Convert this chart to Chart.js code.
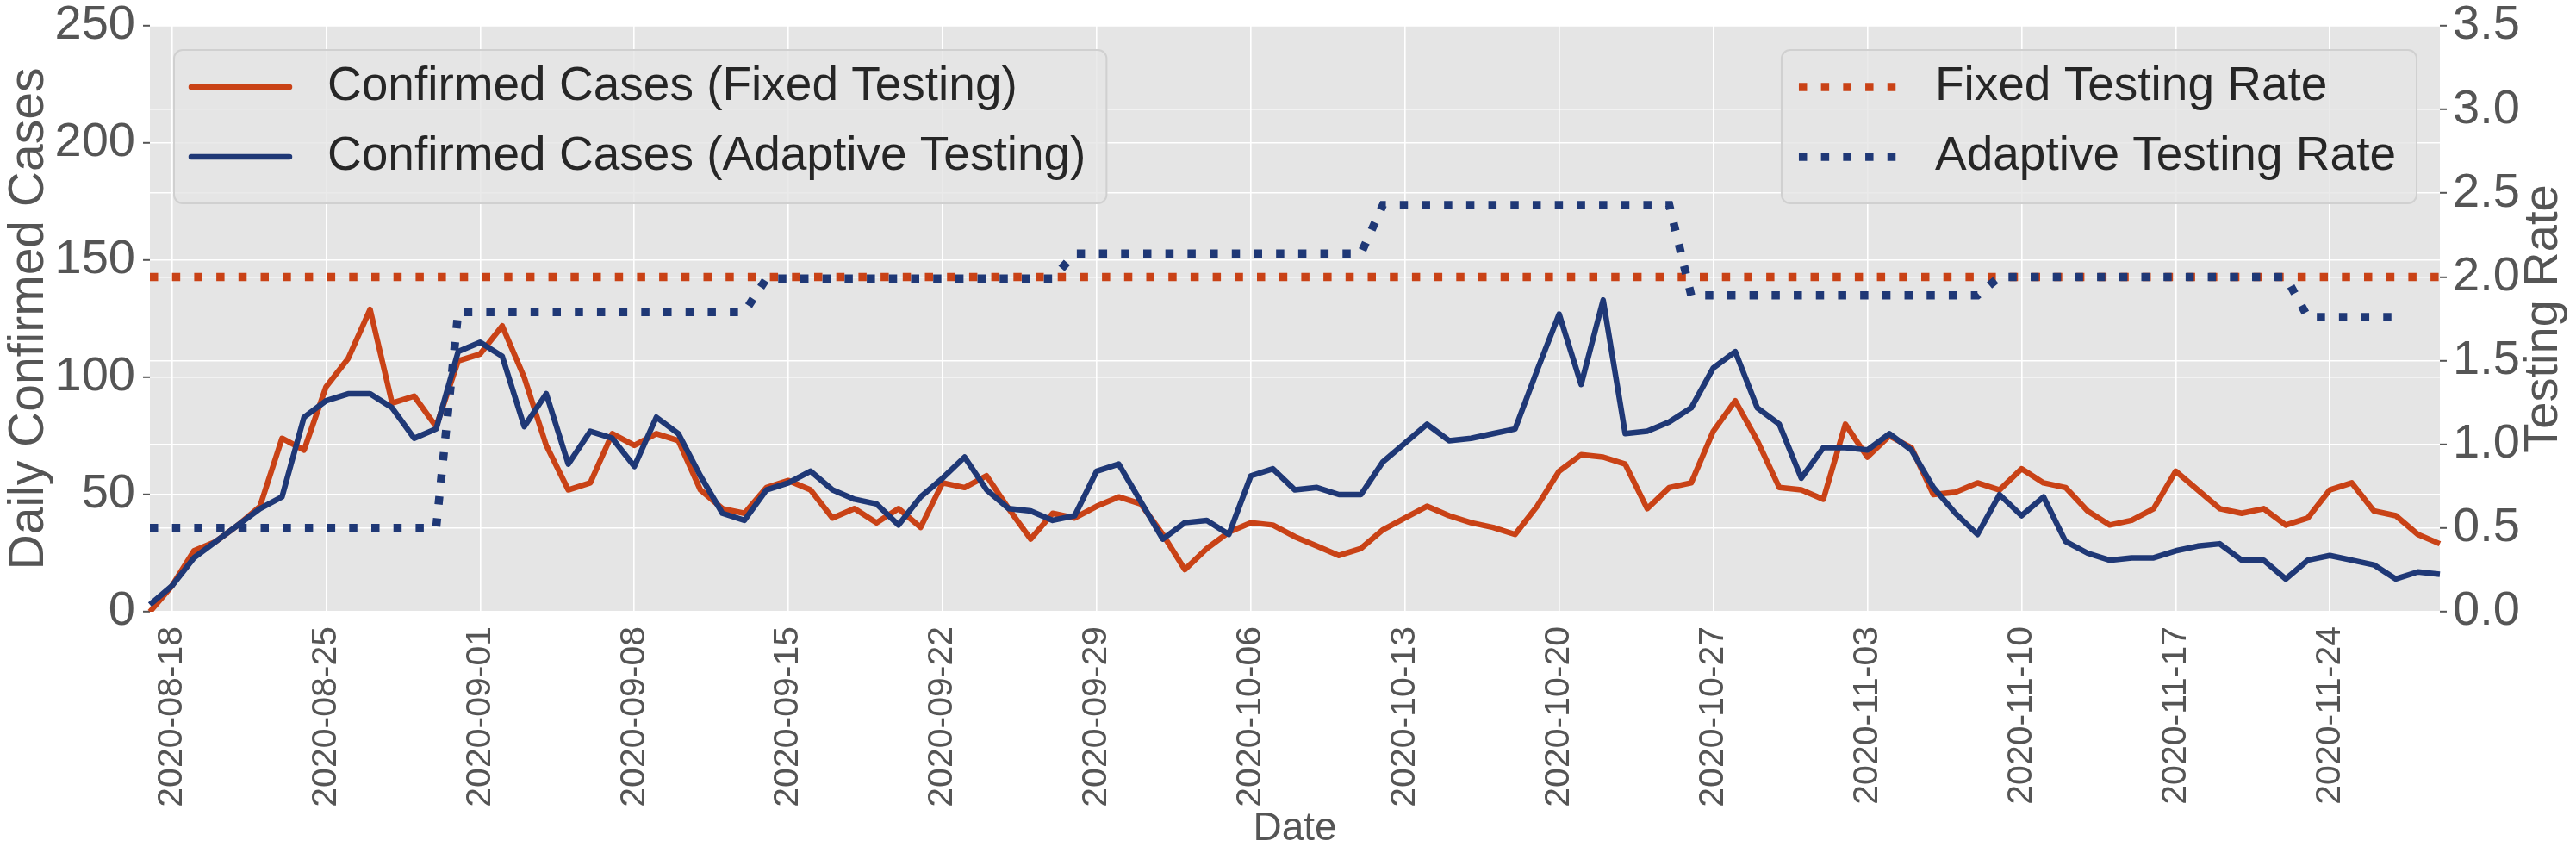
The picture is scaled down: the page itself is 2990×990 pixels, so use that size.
<!DOCTYPE html>
<html lang="en">
<head>
    <meta charset="UTF-8">
    <title>Confirmed Cases and Testing Rate</title>
    <script src="https://cdn.jsdelivr.net/npm/chart.js"></script>
    <style>
        body {
            margin: 0;
            background: #ffffff;
            overflow: hidden;
        }

        canvas {
            display: block;
        }
    </style>
</head>
<body>
    <canvas id="casesChart" width="2990" height="990"></canvas>

    <script>
        // Days shown on the x axis
        const dates = [
            '2020-08-17', '2020-08-18', '2020-08-19', '2020-08-20', '2020-08-21', '2020-08-22', '2020-08-23', '2020-08-24', '2020-08-25', '2020-08-26', '2020-08-27', '2020-08-28', '2020-08-29', '2020-08-30', '2020-08-31',
            '2020-09-01', '2020-09-02', '2020-09-03', '2020-09-04', '2020-09-05', '2020-09-06', '2020-09-07', '2020-09-08', '2020-09-09', '2020-09-10', '2020-09-11', '2020-09-12', '2020-09-13', '2020-09-14', '2020-09-15',
            '2020-09-16', '2020-09-17', '2020-09-18', '2020-09-19', '2020-09-20', '2020-09-21', '2020-09-22', '2020-09-23', '2020-09-24', '2020-09-25', '2020-09-26', '2020-09-27', '2020-09-28', '2020-09-29', '2020-09-30',
            '2020-10-01', '2020-10-02', '2020-10-03', '2020-10-04', '2020-10-05', '2020-10-06', '2020-10-07', '2020-10-08', '2020-10-09', '2020-10-10', '2020-10-11', '2020-10-12', '2020-10-13', '2020-10-14', '2020-10-15',
            '2020-10-16', '2020-10-17', '2020-10-18', '2020-10-19', '2020-10-20', '2020-10-21', '2020-10-22', '2020-10-23', '2020-10-24', '2020-10-25', '2020-10-26', '2020-10-27', '2020-10-28', '2020-10-29', '2020-10-30', '2020-10-31',
            '2020-11-01', '2020-11-02', '2020-11-03', '2020-11-04', '2020-11-05', '2020-11-06', '2020-11-07', '2020-11-08', '2020-11-09', '2020-11-10', '2020-11-11', '2020-11-12', '2020-11-13', '2020-11-14', '2020-11-15',
            '2020-11-16', '2020-11-17', '2020-11-18', '2020-11-19', '2020-11-20', '2020-11-21', '2020-11-22', '2020-11-23', '2020-11-24', '2020-11-25', '2020-11-26', '2020-11-27', '2020-11-28', '2020-11-29'
        ];

        // Dates that get a tick label and a grid line
        const tickDates = [
            '2020-08-18', '2020-08-25', '2020-09-01', '2020-09-08', '2020-09-15', '2020-09-22', '2020-09-29', '2020-10-06',
            '2020-10-13', '2020-10-20', '2020-10-27', '2020-11-03', '2020-11-10', '2020-11-17', '2020-11-24'
        ];

        const casesFixed = [
            0, 11, 26, 30, 37, 45, 74,
            69, 96, 108, 129, 89, 92, 79,
            107, 110, 122, 100, 71, 52, 55,
            76, 71, 76, 73, 52, 44, 42,
            53, 56, 52, 40, 44, 38, 44,
            36, 55, 53, 58, 44, 31, 42,
            40, 45, 49, 46, 33, 18, 27,
            34, 38, 37, 32, 28, 24, 27,
            35, 40, 45, 41, 38, 36, 33,
            45, 60, 67, 66, 63, 44, 53,
            55, 77, 90, 73, 53, 52, 48,
            80, 66, 75, 70, 50, 51, 55,
            52, 61, 55, 53, 43, 37, 39,
            44, 60, 52, 44, 42, 44, 37,
            40, 52, 55, 43, 41, 33, 29
        ];

        const casesAdaptive = [
            3, 11, 23, 30, 37, 44, 49,
            83, 90, 93, 93, 87, 74, 78,
            111, 115, 109, 79, 93, 63, 77,
            74, 62, 83, 76, 58, 42, 39,
            52, 55, 60, 52, 48, 46, 37,
            49, 57, 66, 52, 44, 43, 39,
            41, 60, 63, 47, 31, 38, 39,
            33, 58, 61, 52, 53, 50, 50,
            64, 72, 80, 73, 74, 76, 78,
            103, 127, 97, 133, 76, 77, 81,
            87, 104, 111, 87, 80, 57, 70,
            70, 69, 76, 69, 53, 42, 33,
            50, 41, 49, 30, 25, 22, 23,
            23, 26, 28, 29, 22, 22, 14,
            22, 24, 22, 20, 14, 17, 16
        ];

        const rateFixed = [
            2, 2, 2, 2, 2, 2, 2,
            2, 2, 2, 2, 2, 2, 2,
            2, 2, 2, 2, 2, 2, 2,
            2, 2, 2, 2, 2, 2, 2,
            2, 2, 2, 2, 2, 2, 2,
            2, 2, 2, 2, 2, 2, 2,
            2, 2, 2, 2, 2, 2, 2,
            2, 2, 2, 2, 2, 2, 2,
            2, 2, 2, 2, 2, 2, 2,
            2, 2, 2, 2, 2, 2, 2,
            2, 2, 2, 2, 2, 2, 2,
            2, 2, 2, 2, 2, 2, 2,
            2, 2, 2, 2, 2, 2, 2,
            2, 2, 2, 2, 2, 2, 2,
            2, 2, 2, 2, 2, 2, 2
        ];

        // Adaptive rate changes every two weeks and stops two days before the end
        const rateAdaptive = [
            0.5, 0.5, 0.5, 0.5, 0.5, 0.5, 0.5, 0.5, 0.5, 0.5, 0.5, 0.5, 0.5, 0.5,
            1.79, 1.79, 1.79, 1.79, 1.79, 1.79, 1.79, 1.79, 1.79, 1.79, 1.79, 1.79, 1.79, 1.79,
            1.99, 1.99, 1.99, 1.99, 1.99, 1.99, 1.99, 1.99, 1.99, 1.99, 1.99, 1.99, 1.99, 1.99,
            2.14, 2.14, 2.14, 2.14, 2.14, 2.14, 2.14, 2.14, 2.14, 2.14, 2.14, 2.14, 2.14, 2.14,
            2.43, 2.43, 2.43, 2.43, 2.43, 2.43, 2.43, 2.43, 2.43, 2.43, 2.43, 2.43, 2.43, 2.43,
            1.89, 1.89, 1.89, 1.89, 1.89, 1.89, 1.89, 1.89, 1.89, 1.89, 1.89, 1.89, 1.89, 1.89,
            2.0, 2.0, 2.0, 2.0, 2.0, 2.0, 2.0, 2.0, 2.0, 2.0, 2.0, 2.0, 2.0, 2.0,
            1.76, 1.76, 1.76, 1.76, 1.76, null, null
        ];

        const ORANGE = '#c94216';
        const NAVY = '#1f3876';
        const FONT = '"Liberation Sans", Arial, Helvetica, sans-serif';
        const DOTS = [9.5, 16.2];

        Chart.defaults.font.family = FONT;

        // Plot background, axis titles and the two legends
        const decorations = {
            id: 'decorations',
            beforeDraw(chart) {
                const { ctx, chartArea: a } = chart;
                ctx.save();
                ctx.fillStyle = '#ffffff';
                ctx.fillRect(0, 0, chart.width, chart.height);
                ctx.fillStyle = '#e5e5e5';
                ctx.fillRect(a.left, a.top, a.right - a.left, a.bottom - a.top);
                ctx.restore();
            },
            afterDraw(chart) {
                const { ctx, chartArea: a } = chart;
                const midY = (a.top + a.bottom) / 2;

                ctx.save();
                ctx.fillStyle = '#555555';
                ctx.textAlign = 'center';
                ctx.textBaseline = 'alphabetic';

                ctx.font = '57px ' + FONT;
                ctx.save();
                ctx.translate(50, midY);
                ctx.rotate(-Math.PI / 2);
                ctx.fillText('Daily Confirmed Cases', 0, 0);
                ctx.restore();

                ctx.font = '56px ' + FONT;
                ctx.save();
                ctx.translate(2968, midY);
                ctx.rotate(-Math.PI / 2);
                ctx.fillText('Testing Rate', 0, 0);
                ctx.restore();

                ctx.font = '46px ' + FONT;
                ctx.fillText('Date', (a.left + a.right) / 2, 975);
                ctx.restore();

                const sets = chart.data.datasets;
                drawLegend(ctx, sets.filter(d => d.yAxisID === 'y'), a.left + 28, a.top + 28, false);
                drawLegend(ctx, sets.filter(d => d.yAxisID === 'y1'), a.right - 27, a.top + 28, true);
            }
        };

        function drawLegend(ctx, items, x, y, fromRight) {
            ctx.save();
            ctx.font = '55px ' + FONT;
            const textW = Math.max(...items.map(d => ctx.measureText(d.label).width));
            const w = 20 + 114 + 44 + textW + 24;
            const h = 178;
            const left = fromRight ? x - w : x;

            ctx.beginPath();
            ctx.roundRect(left, y, w, h, 10);
            ctx.fillStyle = 'rgba(229, 229, 229, 0.8)';
            ctx.fill();
            ctx.lineWidth = 2;
            ctx.strokeStyle = '#d0d0d0';
            ctx.stroke();

            items.forEach((d, k) => {
                const cy = y + 43 + k * 81;
                ctx.beginPath();
                ctx.setLineDash(d.borderDash || []);
                ctx.lineCap = d.borderDash ? 'butt' : 'round';
                ctx.lineWidth = d.borderWidth;
                ctx.strokeStyle = d.borderColor;
                ctx.moveTo(left + 20, cy);
                ctx.lineTo(left + 134, cy);
                ctx.stroke();
                ctx.setLineDash([]);

                ctx.fillStyle = '#262626';
                ctx.textAlign = 'left';
                ctx.textBaseline = 'middle';
                ctx.fillText(d.label, left + 178, cy);
            });
            ctx.restore();
        }

        const ctx = document.getElementById('casesChart').getContext('2d');

        new Chart(ctx, {
            type: 'line',
            data: {
                labels: dates,
                datasets: [
                    {
                        label: 'Confirmed Cases (Fixed Testing)',
                        data: casesFixed,
                        yAxisID: 'y',
                        borderColor: ORANGE,
                        borderWidth: 6.5,
                        borderJoinStyle: 'round',
                        order: 3
                    },
                    {
                        label: 'Confirmed Cases (Adaptive Testing)',
                        data: casesAdaptive,
                        yAxisID: 'y',
                        borderColor: NAVY,
                        borderWidth: 6.5,
                        borderJoinStyle: 'round',
                        order: 2
                    },
                    {
                        label: 'Fixed Testing Rate',
                        data: rateFixed,
                        yAxisID: 'y1',
                        borderColor: ORANGE,
                        borderWidth: 9.5,
                        borderDash: DOTS,
                        borderCapStyle: 'butt',
                        order: 1
                    },
                    {
                        label: 'Adaptive Testing Rate',
                        data: rateAdaptive,
                        yAxisID: 'y1',
                        borderColor: NAVY,
                        borderWidth: 9.5,
                        borderDash: DOTS,
                        borderCapStyle: 'butt',
                        order: 0
                    }
                ]
            },
            options: {
                responsive: false,
                animation: false,
                devicePixelRatio: 1,
                events: [],
                layout: {
                    padding: { top: 30, left: 0, right: 0, bottom: 0 }
                },
                elements: {
                    point: { radius: 0 },
                    line: { tension: 0, fill: false }
                },
                plugins: {
                    legend: { display: false },
                    tooltip: { enabled: false }
                },
                scales: {
                    x: {
                        type: 'category',
                        offset: false,
                        afterBuildTicks: (scale) => {
                            scale.ticks = scale.ticks.filter(t => tickDates.includes(dates[t.value]));
                        },
                        afterFit: (scale) => {
                            scale.height = 280;
                            scale.paddingLeft = 0;
                            scale.paddingRight = 0;
                        },
                        ticks: {
                            autoSkip: false,
                            minRotation: 90,
                            maxRotation: 90,
                            padding: 9,
                            color: '#555555',
                            font: { size: 41 }
                        },
                        grid: {
                            color: '#ffffff',
                            lineWidth: 1.6,
                            tickLength: 8,
                            tickColor: 'rgba(0, 0, 0, 0)'
                        },
                        border: { display: false }
                    },
                    y: {
                        position: 'left',
                        min: 0,
                        max: 250,
                        afterFit: (scale) => {
                            scale.width = 174;
                            scale.paddingTop = 0;
                            scale.paddingBottom = 0;
                        },
                        ticks: {
                            stepSize: 50,
                            padding: 9,
                            color: '#555555',
                            font: { size: 56 }
                        },
                        grid: {
                            color: '#ffffff',
                            lineWidth: 1.6,
                            tickLength: 8,
                            tickWidth: 2,
                            tickColor: '#555555'
                        },
                        border: { display: false }
                    },
                    y1: {
                        position: 'right',
                        min: 0,
                        max: 3.5,
                        afterFit: (scale) => {
                            scale.width = 158;
                            scale.paddingTop = 0;
                            scale.paddingBottom = 0;
                        },
                        ticks: {
                            stepSize: 0.5,
                            padding: 7,
                            color: '#555555',
                            font: { size: 56 },
                            callback: (v) => v.toFixed(1)
                        },
                        grid: {
                            color: '#ffffff',
                            lineWidth: 1.6,
                            tickLength: 8,
                            tickWidth: 2,
                            tickColor: '#555555'
                        },
                        border: { display: false }
                    }
                }
            },
            plugins: [decorations]
        });
    </script>
</body>
</html>
